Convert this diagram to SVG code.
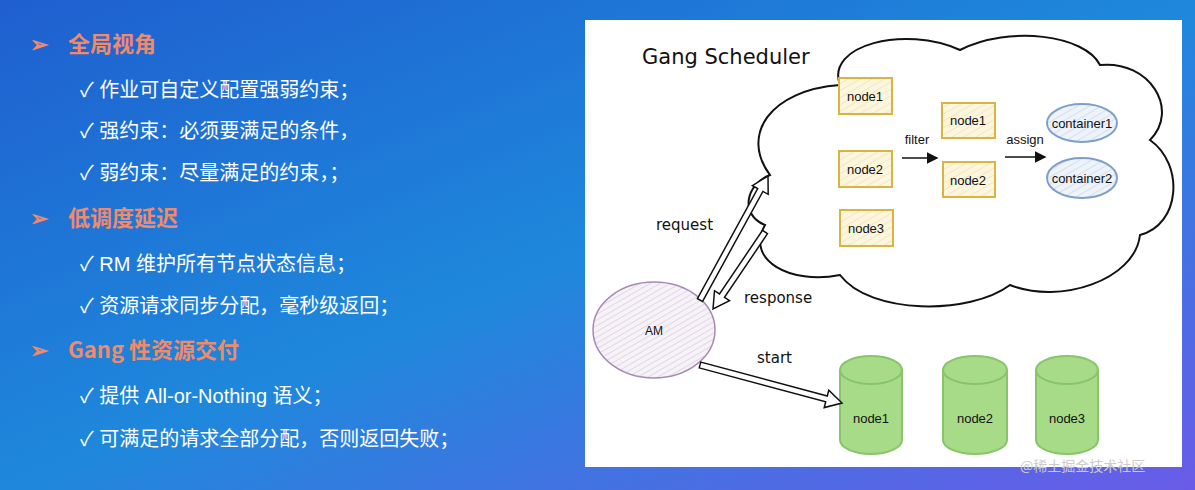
<svg xmlns="http://www.w3.org/2000/svg" width="1195" height="490" viewBox="0 0 1195 490">
<defs>
<linearGradient id="bg" x1="0" y1="0" x2="1" y2="1">
<stop offset="0" stop-color="#1f5fcf"/><stop offset="0.5" stop-color="#1e88dc"/><stop offset="1" stop-color="#6a5be8"/>
</linearGradient>
<pattern id="hy" width="6" height="6" patternUnits="userSpaceOnUse" patternTransform="rotate(60)"><rect width="6" height="6" fill="#fdf6df"/><line x1="0" y1="0" x2="0" y2="6" stroke="#e8d8a0" stroke-width="1"/></pattern>
<pattern id="hb" width="6" height="6" patternUnits="userSpaceOnUse" patternTransform="rotate(60)"><rect width="6" height="6" fill="#eef3fa"/><line x1="0" y1="0" x2="0" y2="6" stroke="#b9cde6" stroke-width="1"/></pattern>
<pattern id="hp" width="5" height="5" patternUnits="userSpaceOnUse" patternTransform="rotate(60)"><rect width="5" height="5" fill="#f6f2f8"/><line x1="0" y1="0" x2="0" y2="5" stroke="#cbbfd3" stroke-width="1"/></pattern>
<marker id="ah" markerWidth="8" markerHeight="8" refX="7" refY="4" orient="auto"><path d="M0,0 L8,4 L0,8 Z" fill="#111"/></marker>
</defs>
<style>
.h{font-family:"Noto Sans CJK SC","Liberation Sans",sans-serif;font-size:22px;font-weight:bold;fill:#f08a6a}
.t{font-family:"Liberation Sans","Noto Sans CJK SC",sans-serif;font-size:20px;fill:#fff}
.n{font-family:"Liberation Sans",sans-serif;font-size:13px;fill:#111;text-anchor:middle}
.hw{font-family:"DejaVu Sans",sans-serif;font-size:15px;fill:#111}
.box{fill:url(#hy);stroke:#d9b440;stroke-width:2}
.cont{fill:url(#hb);stroke:#7ea0c8;stroke-width:2}
.cyl{fill:#a7db88;stroke:#88c46a;stroke-width:2}
.arr{fill:#fff;stroke:#111;stroke-width:1.5;stroke-linejoin:miter}
</style>
<rect width="1195" height="490" fill="url(#bg)"/>
<g id="left-text">
<text class="h" x="30" y="52">➢</text><text class="h" x="68" y="52">全局视角</text>
<text class="t" x="80" y="97">✓  作业可自定义配置强弱约束；</text>
<text class="t" x="80" y="138">✓  强约束：必须要满足的条件，</text>
<text class="t" x="80" y="180">✓  弱约束：尽量满足的约束，；</text>
<text class="h" x="30" y="226">➢</text><text class="h" x="68" y="226">低调度延迟</text>
<text class="t" x="80" y="271">✓ RM 维护所有节点状态信息；</text>
<text class="t" x="80" y="313">✓ 资源请求同步分配，毫秒级返回；</text>
<text class="h" x="30" y="358">➢</text><text class="h" x="68" y="358">Gang 性资源交付</text>
<text class="t" x="80" y="403">✓ 提供 All-or-Nothing 语义；</text>
<text class="t" x="80" y="446">✓ 可满足的请求全部分配，否则返回失败；</text>
</g>
<rect x="585" y="20" width="597" height="447" fill="#fff"/>
<g id="cloud">
<path d="M840,85 C825,45 905,25 960,50 C1010,25 1085,35 1100,65 C1150,60 1180,110 1150,140 C1185,165 1180,225 1140,235 C1135,280 1060,305 1010,285 C970,315 870,315 840,275 C790,285 745,260 765,225 C740,215 745,185 770,175 C740,135 770,90 840,85 Z" fill="#fff" stroke="#111" stroke-width="2"/>
</g>
<text class="hw" x="642" y="64" style="font-size:21px">Gang Scheduler</text>
<g id="n1"><rect x="839" y="78" width="53" height="36" class="box"/><text class="n" x="865" y="101">node1</text></g>
<g id="n2"><rect x="839" y="151" width="53" height="36" class="box"/><text class="n" x="865" y="174">node2</text></g>
<g id="n3"><rect x="840" y="210" width="53" height="36" class="box"/><text class="n" x="866" y="233">node3</text></g>
<g id="f1"><rect x="942" y="103" width="53" height="35" class="box"/><text class="n" x="968" y="125">node1</text></g>
<g id="f2"><rect x="943" y="162" width="52" height="35" class="box"/><text class="n" x="968" y="185">node2</text></g>
<g id="c1"><ellipse cx="1082" cy="123" rx="35" ry="19" class="cont"/><text class="n" x="1082" y="128">container1</text></g>
<g id="c2"><ellipse cx="1082" cy="178" rx="35" ry="20" class="cont"/><text class="n" x="1082" y="183">container2</text></g>
<g id="am"><ellipse cx="654" cy="330" rx="61" ry="48" fill="url(#hp)" stroke="#a58bb5" stroke-width="1.5"/><text class="n" x="654" y="335" style="font-size:12px">AM</text></g>
<g id="d1"><path d="M840,370 V440 A31,14 0 0 0 902,440 V370" class="cyl"/><ellipse cx="871" cy="370" rx="31" ry="14" class="cyl"/><text class="n" x="871" y="423">node1</text></g>
<g id="d2"><path d="M943,370 V440 A32,14 0 0 0 1007,440 V370" class="cyl"/><ellipse cx="975" cy="370" rx="32" ry="14" class="cyl"/><text class="n" x="975" y="423">node2</text></g>
<g id="d3"><path d="M1036,370 V440 A31,14 0 0 0 1098,440 V370" class="cyl"/><ellipse cx="1067" cy="370" rx="31" ry="14" class="cyl"/><text class="n" x="1067" y="423">node3</text></g>
<g id="connectors">
<line x1="902" y1="158" x2="937" y2="158" stroke="#111" stroke-width="1.5" marker-end="url(#ah)"/>
<line x1="1005" y1="157" x2="1045" y2="157" stroke="#111" stroke-width="1.5" marker-end="url(#ah)"/>
<path class="arr" d="M702.6,301.4 L762.9,191.4 L768.2,194.3 L768,176 L752.4,185.7 L757.7,188.6 L697.4,298.6 Z"/>
<path class="arr" d="M767.5,233.7 L724.5,297.4 L729.5,300.7 L713,309 L714.5,290.7 L719.5,294 L762.5,230.3 Z"/>
<path class="arr" d="M699.2,367.9 L825.7,401.8 L824.2,407.6 L842,403 L828.8,390.2 L827.3,396 L700.8,362.1 Z"/>
</g>
<text class="n" x="917" y="144">filter</text>
<text class="n" x="1025" y="144">assign</text>
<text class="hw" x="656" y="230">request</text>
<text class="hw" x="744" y="303">response</text>
<text class="hw" x="757" y="363">start</text>
<text x="1020" y="471" style="font-family:'Noto Sans CJK SC',sans-serif;font-size:14px;fill:#ccc">@稀土掘金技术社区</text>
</svg>
